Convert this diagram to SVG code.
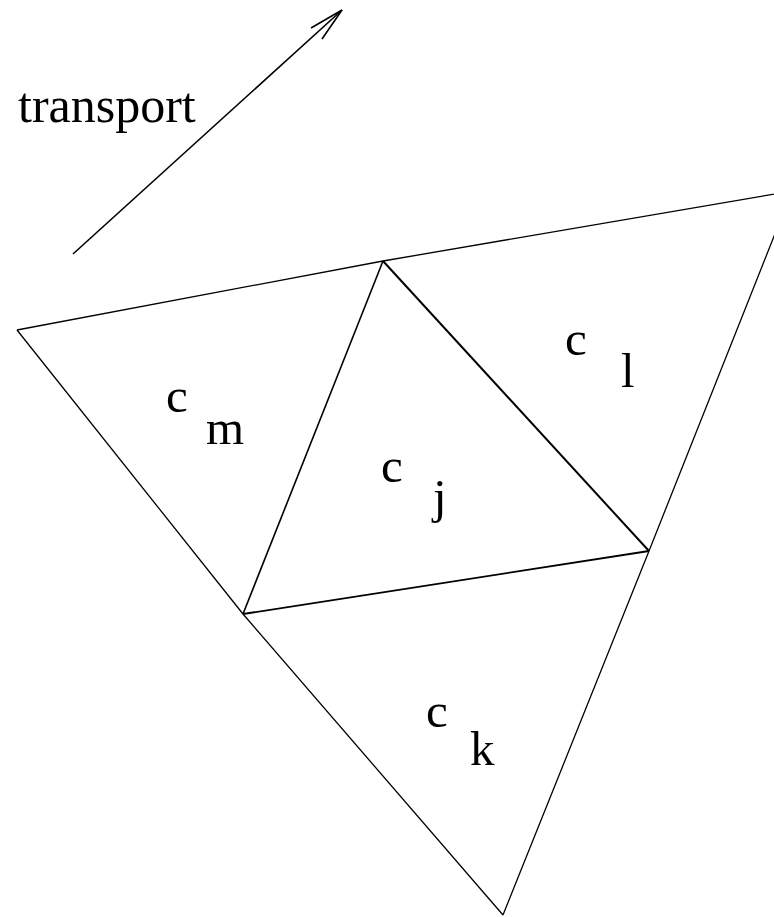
<svg xmlns="http://www.w3.org/2000/svg" width="774" height="917" viewBox="0 0 774 917">
<style>
.ln{fill:none;stroke:#000;stroke-width:1.3;stroke-linejoin:miter}
.lbl{font-family:"Liberation Serif","Times New Roman",serif;font-size:49px;fill:#000}
</style>
<rect width="774" height="917" fill="#fff"/>
<g id="connectors">
<g id="transport-arrow">
<line class="ln" x1="73" y1="254" x2="342" y2="10" style="stroke-width:1.6"/>
<polyline class="ln" points="311,28 342,10 322,39" style="stroke-width:1.6"/>
</g>
<polyline id="outer-top" class="ln" points="17,330 383,261 792,191"/>
<polyline id="outer-left" class="ln" points="17,330 243,614 503,915"/>
<polyline id="outer-right" class="ln" points="792,191 649,551 503,915"/>
<line id="inner-top-right" class="ln" x1="383" y1="261" x2="649" y2="551" style="stroke-width:2"/>
<line id="inner-left" class="ln" x1="383" y1="261" x2="243" y2="614" style="stroke-width:1.6"/>
<line id="inner-bottom" class="ln" x1="243" y1="614" x2="649" y2="551" style="stroke-width:1.8"/>
</g>
<g id="label-transport"><text class="lbl" x="18" y="122" style="font-size:50px">transport</text></g>
<g id="cell-m"><text class="lbl" x="166" y="412">c</text><text class="lbl" x="206" y="444">m</text></g>
<g id="cell-j"><text class="lbl" x="381" y="482">c</text><text class="lbl" x="433" y="513">j</text></g>
<g id="cell-l"><text class="lbl" x="565" y="355">c</text><text class="lbl" x="621" y="387">l</text></g>
<g id="cell-k"><text class="lbl" x="426" y="727">c</text><text class="lbl" x="470" y="765">k</text></g>
</svg>
